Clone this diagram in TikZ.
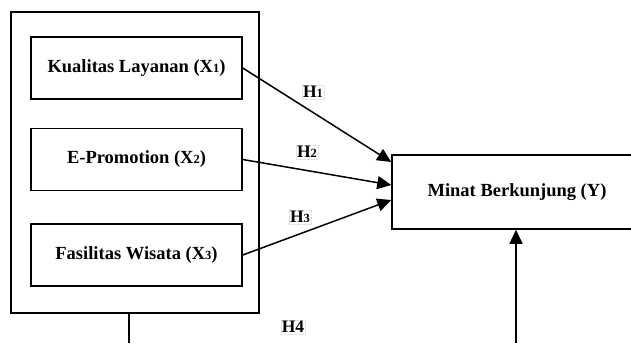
\documentclass[tikz,border=0pt]{standalone}
\usepackage{fontspec}
\setmainfont{Liberation Serif}
\usetikzlibrary{arrows.meta, positioning}
\newcommand{\idx}[1]{{\fontsize{12.5}{12.5}\selectfont #1}}
\tikzset{
  every picture/.style={line width=1.5pt},
  var/.style={draw, fill=white, minimum width=211pt, minimum height=62pt, font=\fontsize{18.5}{20}\selectfont\bfseries},
  arrow/.style={-{Triangle[length=14pt, width=13pt]}},
  hyp/.style={draw=black!10, line width=0.4pt, inner sep=1pt, font=\fontsize{17.5}{19}\selectfont\bfseries},
}
\begin{document}
\begin{tikzpicture}[x=1pt, y=-1pt]
  \useasboundingbox (0,0) rectangle (631,343);
  \node[draw, minimum width=248pt, minimum height=301pt] (group) at (135,162.5) {};
  \node[var] (x1) at (136.5,68) {Kualitas Layanan (X\idx{1})};
  \node[var] (x2) at (136.5,159.5) {E-Promotion (X\idx{2})};
  \node[var] (x3) at (136.5,255) {Fasilitas Wisata (X\idx{3})};
  \node[var, minimum width=250pt, minimum height=74pt] (y) at (517,192) {Minat Berkunjung (Y)};
  \draw[arrow] (x1.east) -- ([yshift=30pt]y.west);
  \draw[arrow] (x2.east) -- ([yshift=7pt]y.west);
  \draw[arrow] (x3.east) -- ([yshift=-8pt]y.west);
  \coordinate (b1) at (129,343);
  \coordinate (b2) at (516,343);
  \draw (b1 |- group.south) -- (b1);
  \draw[arrow] (b2) -- (b2 |- y.south);
  \node[hyp] (h1) at (313,92) {H\idx{1}};
  \node[hyp] (h2) at (307,152) {H\idx{2}};
  \node[hyp] (h3) at (300,217) {H\idx{3}};
  \node[hyp] (h4) at (293,327) {H4};
\end{tikzpicture}
\end{document}
